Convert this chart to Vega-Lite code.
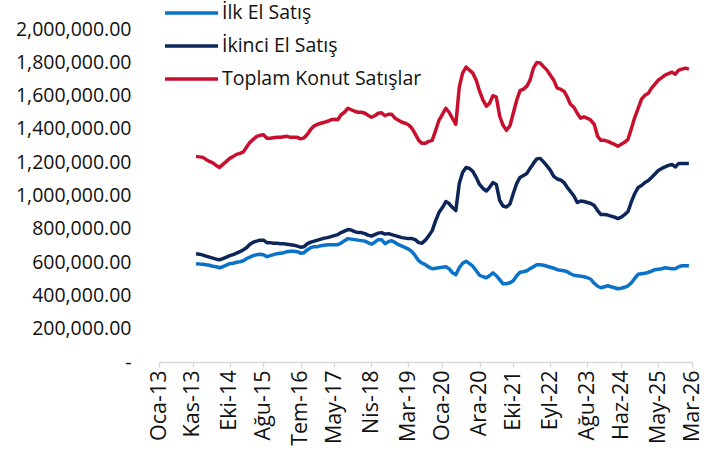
{
 "$schema": "https://vega.github.io/schema/vega-lite/v6.json",
 "autosize": {"type": "none"},
 "padding": {"left": 159, "top": 29, "right": 27, "bottom": 87},
 "width": 533,
 "height": 333,
 "background": "white",
 "data": {"values": [
  {"d":"2013-12-01","ilk":590400,"ikinci":650600,"toplam":1234900},
  {"d":"2014-01-01","ilk":588500,"ikinci":647600,"toplam":1231900},
  {"d":"2014-02-01","ilk":587300,"ikinci":641600,"toplam":1228900},
  {"d":"2014-03-01","ilk":584300,"ikinci":635500,"toplam":1216800},
  {"d":"2014-04-01","ilk":581300,"ikinci":629500,"toplam":1204800},
  {"d":"2014-05-01","ilk":575300,"ikinci":623500,"toplam":1195800},
  {"d":"2014-06-01","ilk":572300,"ikinci":617500,"toplam":1180700},
  {"d":"2014-07-01","ilk":566300,"ikinci":614400,"toplam":1168700},
  {"d":"2014-08-01","ilk":572300,"ikinci":620500,"toplam":1186700},
  {"d":"2014-09-01","ilk":581300,"ikinci":629500,"toplam":1204800},
  {"d":"2014-10-01","ilk":590400,"ikinci":638500,"toplam":1222900},
  {"d":"2014-11-01","ilk":593400,"ikinci":644600,"toplam":1234900},
  {"d":"2014-12-01","ilk":599400,"ikinci":653600,"toplam":1247000},
  {"d":"2015-01-01","ilk":602400,"ikinci":662600,"toplam":1253000},
  {"d":"2015-02-01","ilk":608400,"ikinci":674700,"toplam":1262000},
  {"d":"2015-03-01","ilk":620500,"ikinci":686700,"toplam":1289100},
  {"d":"2015-04-01","ilk":629500,"ikinci":707800,"toplam":1319300},
  {"d":"2015-05-01","ilk":638500,"ikinci":719900,"toplam":1337300},
  {"d":"2015-06-01","ilk":644600,"ikinci":725900,"toplam":1355400},
  {"d":"2015-07-01","ilk":647600,"ikinci":731900,"toplam":1361400},
  {"d":"2015-08-01","ilk":644600,"ikinci":731900,"toplam":1364400},
  {"d":"2015-09-01","ilk":632500,"ikinci":716900,"toplam":1343400},
  {"d":"2015-10-01","ilk":638500,"ikinci":716900,"toplam":1343400},
  {"d":"2015-11-01","ilk":644600,"ikinci":713800,"toplam":1346400},
  {"d":"2015-12-01","ilk":650600,"ikinci":713800,"toplam":1349400},
  {"d":"2016-01-01","ilk":653600,"ikinci":710800,"toplam":1349400},
  {"d":"2016-02-01","ilk":656600,"ikinci":710800,"toplam":1352400},
  {"d":"2016-03-01","ilk":662600,"ikinci":707800,"toplam":1355400},
  {"d":"2016-04-01","ilk":665700,"ikinci":704800,"toplam":1349400},
  {"d":"2016-05-01","ilk":665700,"ikinci":701800,"toplam":1349400},
  {"d":"2016-06-01","ilk":662600,"ikinci":695800,"toplam":1349400},
  {"d":"2016-07-01","ilk":653600,"ikinci":689700,"toplam":1340300},
  {"d":"2016-08-01","ilk":656600,"ikinci":692800,"toplam":1346400},
  {"d":"2016-09-01","ilk":674700,"ikinci":710800,"toplam":1367400},
  {"d":"2016-10-01","ilk":686700,"ikinci":719900,"toplam":1397600},
  {"d":"2016-11-01","ilk":692800,"ikinci":725900,"toplam":1418700},
  {"d":"2016-12-01","ilk":692800,"ikinci":731900,"toplam":1427700},
  {"d":"2017-01-01","ilk":698800,"ikinci":737900,"toplam":1433700},
  {"d":"2017-02-01","ilk":701800,"ikinci":744000,"toplam":1439700},
  {"d":"2017-03-01","ilk":704800,"ikinci":747000,"toplam":1445800},
  {"d":"2017-04-01","ilk":704800,"ikinci":753000,"toplam":1454800},
  {"d":"2017-05-01","ilk":704800,"ikinci":759000,"toplam":1457800},
  {"d":"2017-06-01","ilk":704800,"ikinci":765000,"toplam":1454800},
  {"d":"2017-07-01","ilk":713800,"ikinci":777100,"toplam":1484900},
  {"d":"2017-08-01","ilk":728900,"ikinci":786100,"toplam":1500000},
  {"d":"2017-09-01","ilk":741000,"ikinci":795200,"toplam":1524100},
  {"d":"2017-10-01","ilk":737900,"ikinci":792200,"toplam":1515000},
  {"d":"2017-11-01","ilk":734900,"ikinci":783100,"toplam":1506000},
  {"d":"2017-12-01","ilk":731900,"ikinci":777100,"toplam":1500000},
  {"d":"2018-01-01","ilk":728900,"ikinci":777100,"toplam":1500000},
  {"d":"2018-02-01","ilk":725900,"ikinci":771100,"toplam":1494000},
  {"d":"2018-03-01","ilk":716900,"ikinci":762000,"toplam":1481900},
  {"d":"2018-04-01","ilk":707800,"ikinci":756000,"toplam":1469900},
  {"d":"2018-05-01","ilk":719900,"ikinci":765000,"toplam":1478900},
  {"d":"2018-06-01","ilk":734900,"ikinci":774100,"toplam":1494000},
  {"d":"2018-07-01","ilk":734900,"ikinci":777100,"toplam":1497000},
  {"d":"2018-08-01","ilk":710800,"ikinci":768100,"toplam":1478900},
  {"d":"2018-09-01","ilk":722900,"ikinci":771100,"toplam":1487900},
  {"d":"2018-10-01","ilk":728900,"ikinci":765000,"toplam":1487900},
  {"d":"2018-11-01","ilk":716900,"ikinci":759000,"toplam":1463800},
  {"d":"2018-12-01","ilk":704800,"ikinci":753000,"toplam":1451800},
  {"d":"2019-01-01","ilk":695800,"ikinci":747000,"toplam":1439700},
  {"d":"2019-02-01","ilk":686700,"ikinci":744000,"toplam":1433700},
  {"d":"2019-03-01","ilk":677700,"ikinci":741000,"toplam":1424700},
  {"d":"2019-04-01","ilk":662600,"ikinci":741000,"toplam":1403600},
  {"d":"2019-05-01","ilk":638500,"ikinci":734900,"toplam":1370500},
  {"d":"2019-06-01","ilk":608400,"ikinci":716900,"toplam":1331300},
  {"d":"2019-07-01","ilk":593400,"ikinci":713800,"toplam":1313200},
  {"d":"2019-08-01","ilk":584300,"ikinci":731900,"toplam":1313200},
  {"d":"2019-09-01","ilk":569300,"ikinci":759000,"toplam":1325300},
  {"d":"2019-10-01","ilk":560200,"ikinci":789100,"toplam":1331300},
  {"d":"2019-11-01","ilk":563200,"ikinci":849400,"toplam":1391500},
  {"d":"2019-12-01","ilk":566300,"ikinci":897600,"toplam":1451800},
  {"d":"2020-01-01","ilk":569300,"ikinci":927700,"toplam":1487900},
  {"d":"2020-02-01","ilk":572300,"ikinci":963800,"toplam":1524100},
  {"d":"2020-03-01","ilk":560200,"ikinci":951800,"toplam":1500000},
  {"d":"2020-04-01","ilk":536100,"ikinci":927700,"toplam":1463800},
  {"d":"2020-05-01","ilk":524100,"ikinci":909600,"toplam":1427700},
  {"d":"2020-06-01","ilk":566300,"ikinci":1072300,"toplam":1650600},
  {"d":"2020-07-01","ilk":593400,"ikinci":1138500,"toplam":1734900},
  {"d":"2020-08-01","ilk":605400,"ikinci":1168700,"toplam":1771100},
  {"d":"2020-09-01","ilk":590400,"ikinci":1162600,"toplam":1753000},
  {"d":"2020-10-01","ilk":575300,"ikinci":1144600,"toplam":1734900},
  {"d":"2020-11-01","ilk":548200,"ikinci":1108400,"toplam":1692700},
  {"d":"2020-12-01","ilk":521100,"ikinci":1066200,"toplam":1626500},
  {"d":"2021-01-01","ilk":512000,"ikinci":1042200,"toplam":1572300},
  {"d":"2021-02-01","ilk":506000,"ikinci":1027100,"toplam":1536100},
  {"d":"2021-03-01","ilk":518100,"ikinci":1048200,"toplam":1554200},
  {"d":"2021-04-01","ilk":536100,"ikinci":1078300,"toplam":1599400},
  {"d":"2021-05-01","ilk":518100,"ikinci":1066200,"toplam":1590300},
  {"d":"2021-06-01","ilk":494000,"ikinci":969900,"toplam":1475900},
  {"d":"2021-07-01","ilk":469900,"ikinci":936700,"toplam":1421700},
  {"d":"2021-08-01","ilk":469900,"ikinci":930700,"toplam":1391500},
  {"d":"2021-09-01","ilk":475900,"ikinci":948800,"toplam":1418700},
  {"d":"2021-10-01","ilk":487900,"ikinci":1012000,"toplam":1494000},
  {"d":"2021-11-01","ilk":518100,"ikinci":1072300,"toplam":1572300},
  {"d":"2021-12-01","ilk":539100,"ikinci":1108400,"toplam":1629500},
  {"d":"2022-01-01","ilk":542200,"ikinci":1120500,"toplam":1638500},
  {"d":"2022-02-01","ilk":548200,"ikinci":1132500,"toplam":1656600},
  {"d":"2022-03-01","ilk":560200,"ikinci":1162600,"toplam":1692700},
  {"d":"2022-04-01","ilk":572300,"ikinci":1192800,"toplam":1765000},
  {"d":"2022-05-01","ilk":584300,"ikinci":1219900,"toplam":1798200},
  {"d":"2022-06-01","ilk":584300,"ikinci":1222900,"toplam":1795200},
  {"d":"2022-07-01","ilk":581300,"ikinci":1201800,"toplam":1774100},
  {"d":"2022-08-01","ilk":575300,"ikinci":1177700,"toplam":1753000},
  {"d":"2022-09-01","ilk":569300,"ikinci":1150600,"toplam":1722900},
  {"d":"2022-10-01","ilk":563200,"ikinci":1114400,"toplam":1692700},
  {"d":"2022-11-01","ilk":554200,"ikinci":1099400,"toplam":1644600},
  {"d":"2022-12-01","ilk":551200,"ikinci":1093400,"toplam":1638500},
  {"d":"2023-01-01","ilk":548200,"ikinci":1078300,"toplam":1626500},
  {"d":"2023-02-01","ilk":542200,"ikinci":1048200,"toplam":1590300},
  {"d":"2023-03-01","ilk":530100,"ikinci":1024100,"toplam":1548200},
  {"d":"2023-04-01","ilk":521100,"ikinci":997000,"toplam":1530100},
  {"d":"2023-05-01","ilk":518100,"ikinci":957800,"toplam":1494000},
  {"d":"2023-06-01","ilk":515100,"ikinci":966900,"toplam":1463800},
  {"d":"2023-07-01","ilk":512000,"ikinci":963800,"toplam":1472900},
  {"d":"2023-08-01","ilk":506000,"ikinci":957800,"toplam":1463800},
  {"d":"2023-09-01","ilk":497000,"ikinci":951800,"toplam":1451800},
  {"d":"2023-10-01","ilk":472900,"ikinci":939700,"toplam":1427700},
  {"d":"2023-11-01","ilk":454800,"ikinci":909600,"toplam":1355400},
  {"d":"2023-12-01","ilk":445800,"ikinci":885500,"toplam":1331300},
  {"d":"2024-01-01","ilk":451800,"ikinci":885500,"toplam":1331300},
  {"d":"2024-02-01","ilk":457800,"ikinci":882500,"toplam":1325300},
  {"d":"2024-03-01","ilk":451800,"ikinci":876500,"toplam":1316200},
  {"d":"2024-04-01","ilk":445800,"ikinci":870500,"toplam":1307200},
  {"d":"2024-05-01","ilk":439800,"ikinci":861400,"toplam":1295200},
  {"d":"2024-06-01","ilk":442800,"ikinci":870500,"toplam":1307200},
  {"d":"2024-07-01","ilk":448800,"ikinci":885500,"toplam":1319300},
  {"d":"2024-08-01","ilk":457800,"ikinci":903600,"toplam":1337300},
  {"d":"2024-09-01","ilk":475900,"ikinci":963800,"toplam":1403600},
  {"d":"2024-10-01","ilk":503000,"ikinci":1012000,"toplam":1469900},
  {"d":"2024-11-01","ilk":527100,"ikinci":1048200,"toplam":1524100},
  {"d":"2024-12-01","ilk":530100,"ikinci":1060200,"toplam":1578300},
  {"d":"2025-01-01","ilk":533100,"ikinci":1078300,"toplam":1602400},
  {"d":"2025-02-01","ilk":539100,"ikinci":1090300,"toplam":1614400},
  {"d":"2025-03-01","ilk":545200,"ikinci":1108400,"toplam":1644600},
  {"d":"2025-04-01","ilk":554200,"ikinci":1129500,"toplam":1668600},
  {"d":"2025-05-01","ilk":557200,"ikinci":1150600,"toplam":1692700},
  {"d":"2025-06-01","ilk":560200,"ikinci":1162600,"toplam":1707800},
  {"d":"2025-07-01","ilk":566300,"ikinci":1171700,"toplam":1722900},
  {"d":"2025-08-01","ilk":563200,"ikinci":1180700,"toplam":1731900},
  {"d":"2025-09-01","ilk":560200,"ikinci":1186700,"toplam":1741000},
  {"d":"2025-10-01","ilk":560200,"ikinci":1171700,"toplam":1728900},
  {"d":"2025-11-01","ilk":572300,"ikinci":1192800,"toplam":1753000},
  {"d":"2025-12-01","ilk":578300,"ikinci":1192800,"toplam":1759000},
  {"d":"2026-01-01","ilk":578300,"ikinci":1192800,"toplam":1765000},
  {"d":"2026-02-01","ilk":578300,"ikinci":1192800,"toplam":1759000}
 ]},
 "transform": [{"fold": ["ilk", "ikinci", "toplam"], "as": ["seri", "deger"]}],
 "mark": {"type": "line", "strokeWidth": 3.5, "strokeJoin": "round", "strokeCap": "butt"},
 "encoding": {
  "x": {
   "field": "d",
   "type": "temporal",
   "scale": {"type": "utc", "domain": [{"year": 2013, "month": 1, "date": 1, "utc": true}, {"year": 2026, "month": 3, "date": 1, "utc": true}]},
   "axis": {
    "title": null,
    "grid": false,
    "values": [
     {"year": 2013, "month": 1, "date": 1, "utc": true},
     {"year": 2013, "month": 11, "date": 1, "utc": true},
     {"year": 2014, "month": 10, "date": 1, "utc": true},
     {"year": 2015, "month": 8, "date": 1, "utc": true},
     {"year": 2016, "month": 7, "date": 1, "utc": true},
     {"year": 2017, "month": 5, "date": 1, "utc": true},
     {"year": 2018, "month": 4, "date": 1, "utc": true},
     {"year": 2019, "month": 3, "date": 1, "utc": true},
     {"year": 2020, "month": 1, "date": 1, "utc": true},
     {"year": 2020, "month": 12, "date": 1, "utc": true},
     {"year": 2021, "month": 10, "date": 1, "utc": true},
     {"year": 2022, "month": 9, "date": 1, "utc": true},
     {"year": 2023, "month": 8, "date": 1, "utc": true},
     {"year": 2024, "month": 6, "date": 1, "utc": true},
     {"year": 2025, "month": 5, "date": 1, "utc": true},
     {"year": 2026, "month": 3, "date": 1, "utc": true}
    ],
    "labelExpr": "['Oca','Şub','Mar','Nis','May','Haz','Tem','Ağu','Eyl','Eki','Kas','Ara'][utcmonth(datum.value)] + '-' + utcFormat(datum.value, '%y')",
    "labelAngle": -90,
    "labelFont": "Open Sans",
    "labelFontSize": 21.5,
    "labelColor": "#111111",
    "labelPadding": 3,
    "labelOverlap": false,
    "labelFlush": false,
    "labelBound": false,
    "domainColor": "#d9d9d9",
    "domainWidth": 1.5,
    "tickColor": "#d9d9d9",
    "tickWidth": 1.5,
    "tickSize": 5
   }
  },
  "y": {
   "field": "deger",
   "type": "quantitative",
   "scale": {"domain": [0, 2000000], "nice": false, "zero": true},
   "axis": {
    "title": null,
    "grid": false,
    "domain": false,
    "ticks": false,
    "values": [0, 200000, 400000, 600000, 800000, 1000000, 1200000, 1400000, 1600000, 1800000, 2000000],
    "labelExpr": "datum.value == 0 ? '-\u00a0\u00a0\u00a0\u00a0' : format(datum.value, ',.2f')",
    "labelFont": "Open Sans",
    "labelFontSize": 19.5,
    "labelColor": "#111111",
    "labelPadding": 28
   }
  },
  "color": {
   "field": "seri",
   "type": "nominal",
   "scale": {"domain": ["ilk", "ikinci", "toplam"], "range": ["#0A72C9", "#0C2659", "#C8102E"]},
   "legend": {
    "orient": "none",
    "legendX": 4,
    "legendY": -32.5,
    "title": null,
    "padding": 0,
    "symbolType": "stroke",
    "symbolSize": 2809,
    "symbolStrokeWidth": 3.5,
    "clipHeight": 33,
    "rowPadding": 0,
    "labelOffset": 2,
    "labelFont": "Open Sans",
    "labelFontSize": 19.5,
    "labelColor": "#111111",
    "labelLimit": 400,
    "labelExpr": "datum.value == 'ilk' ? 'İlk El Satış' : datum.value == 'ikinci' ? 'İkinci El Satış' : 'Toplam Konut Satışlar'"
   }
  }
 },
 "config": {"view": {"stroke": null}}
}
